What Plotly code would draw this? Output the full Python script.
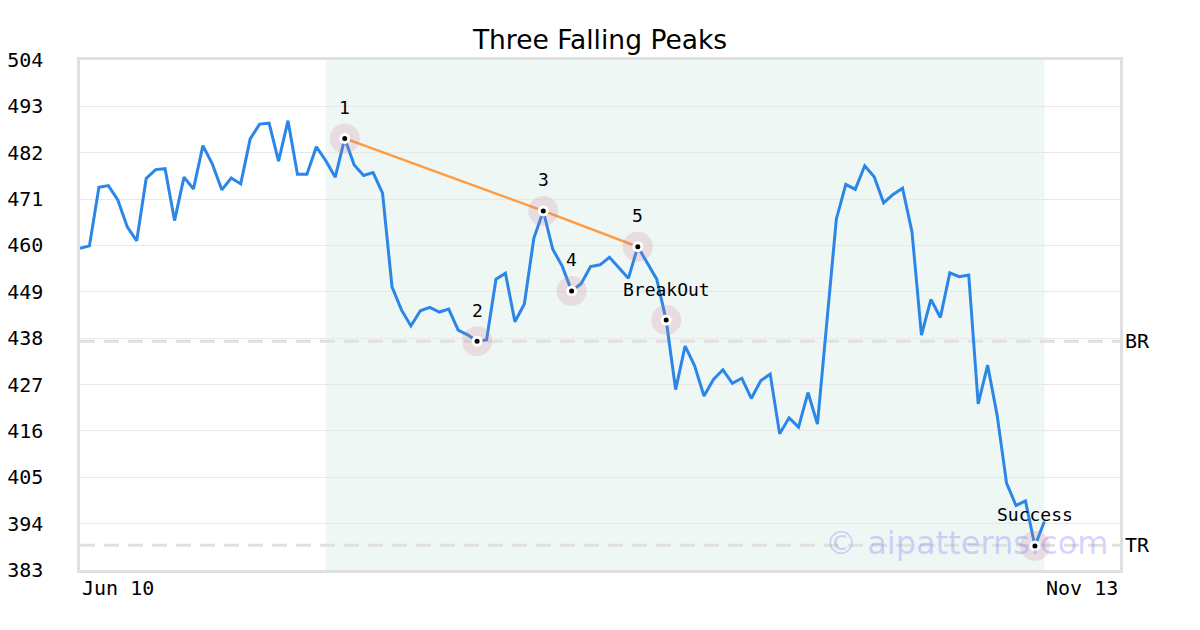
import plotly.graph_objects as go

# daily closes (one value per trading day)
prices = [
    459.3, 459.9, 473.8, 474.2, 470.8, 464.4, 461.1, 475.9, 478.0, 478.2,
    465.9, 476.2, 473.4, 483.7, 479.3, 473.2, 476.0, 474.6, 485.3, 488.8,
    489.0, 480.0, 489.6, 476.9, 476.9, 483.4, 480.1, 476.2, 485.4, 479.1,
    476.6, 477.3, 472.4, 450.2, 444.7, 440.9, 444.5, 445.3, 444.2, 444.9,
    439.9, 438.8, 437.3, 437.6, 452.0, 453.4, 441.9, 446.1, 461.7, 468.2,
    459.1, 455.1, 449.2, 450.9, 455.0, 455.4, 457.2, 454.8, 452.2, 459.7,
    455.8, 452.0, 442.3, 425.8, 436.1, 431.5, 424.3, 428.2, 430.5, 427.3,
    428.5, 423.7, 427.9, 429.5, 415.3, 419.1, 416.9, 425.1, 417.6, 442.3,
    466.3, 474.5, 473.3, 478.9, 476.3, 470.1, 472.1, 473.6, 463.2, 438.7,
    447.2, 442.9, 453.5, 452.6, 453.0, 422.4, 431.6, 419.8, 403.6, 398.3,
    399.4, 388.7, 394.5,
]

# pattern points: index into prices + label
pivot_idx = [28, 42, 49, 52, 59, 62, 101]
pivot_labels = ["1", "2", "3", "4", "5", "BreakOut", "Success"]
peak_idx = [28, 49, 59]

pattern_start = 26
pattern_end = 102
axis_end = 110

breakout_level = 437.3
target_level = 388.9

y_ticks = [383, 394, 405, 416, 427, 438, 449, 460, 471, 482, 493, 504]
date_start = "Jun 10"
date_end = "Nov 13"

MONO = "DejaVu Sans Mono"
x = list(range(len(prices)))

fig = go.Figure()

# pattern window
fig.add_shape(
    type="rect",
    xref="x",
    yref="paper",
    x0=pattern_start,
    x1=pattern_end,
    y0=0,
    y1=1,
    fillcolor="#eef7f4",
    line=dict(width=0),
    layer="below",
)

for level in [breakout_level, target_level]:
    fig.add_shape(
        type="line",
        xref="paper",
        yref="y",
        x0=0,
        x1=1,
        y0=level,
        y1=level,
        line=dict(color="#e0e0e0", width=3, dash="15px,9px"),
        layer="below",
    )

fig.add_trace(
    go.Scatter(
        x=x,
        y=prices,
        mode="lines",
        line=dict(color="#2b86e8", width=3),
        showlegend=False,
    )
)

fig.add_trace(
    go.Scatter(
        x=peak_idx,
        y=[prices[i] for i in peak_idx],
        mode="lines",
        line=dict(color="#ff9b40", width=2.5),
        showlegend=False,
    )
)

pivot_y = [prices[i] for i in pivot_idx]

# halo
fig.add_trace(
    go.Scatter(
        x=pivot_idx,
        y=pivot_y,
        mode="markers",
        marker=dict(size=30, color="rgba(205, 120, 145, 0.2)"),
        showlegend=False,
    )
)

fig.add_trace(
    go.Scatter(
        x=pivot_idx,
        y=pivot_y,
        mode="markers",
        marker=dict(size=8, color="black", line=dict(color="white", width=3)),
        showlegend=False,
    )
)

for i, label in zip(pivot_idx, pivot_labels):
    fig.add_annotation(
        x=i,
        y=prices[i],
        text=label,
        showarrow=False,
        yshift=31,
        font=dict(family=MONO, size=18, color="black"),
    )

# level tags on the right
for level, tag in [(breakout_level, "BR"), (target_level, "TR")]:
    fig.add_annotation(
        xref="paper",
        yref="y",
        x=1,
        y=level,
        text=tag,
        showarrow=False,
        xanchor="left",
        xshift=3,
        font=dict(family=MONO, size=20, color="black"),
    )

# date labels at the ends of the axis
fig.add_annotation(
    xref="x", yref="paper", x=0, y=0, text=date_start, showarrow=False,
    xanchor="left", yanchor="top", yshift=-4,
    font=dict(family=MONO, size=20, color="black"),
)
fig.add_annotation(
    xref="x", yref="paper", x=axis_end, y=0, text=date_end, showarrow=False,
    xanchor="right", yanchor="top", yshift=-4,
    font=dict(family=MONO, size=20, color="black"),
)

# watermark
fig.add_annotation(
    xref="paper", yref="paper", x=0.99, y=0.053, text="© aipatterns.com",
    showarrow=False, xanchor="right", yanchor="middle",
    font=dict(family="DejaVu Sans", size=32, color="rgba(110, 110, 245, 0.3)"),
)

fig.update_layout(
    width=1200,
    height=630,
    title=dict(
        text="Three Falling Peaks",
        x=0.5,
        xanchor="center",
        y=1 - 40 / 630,
        yanchor="middle",
        font=dict(family="DejaVu Sans", size=26.5, color="black"),
    ),
    paper_bgcolor="white",
    plot_bgcolor="white",
    margin=dict(l=80, r=80, t=60, b=60),
    showlegend=False,
)

fig.update_xaxes(
    range=[0, axis_end],
    showticklabels=False,
    showgrid=False,
    zeroline=False,
    showline=True,
    linecolor="#e0e0e0",
    linewidth=2.5,
    mirror=True,
    automargin=False,
)

fig.update_yaxes(
    range=[y_ticks[0], y_ticks[-1]],
    tickvals=y_ticks,
    ticks="",
    ticklabelstandoff=30,
    tickfont=dict(family=MONO, size=20, color="black"),
    showgrid=True,
    gridcolor="#e8e8e8",
    gridwidth=1,
    zeroline=False,
    showline=True,
    linecolor="#e0e0e0",
    linewidth=2.5,
    mirror=True,
    automargin=False,
)

# page body has a default 8px margin; drop it so the figure sits at 0,0
fig.write_html(
    "out.html",
    config={"displayModeBar": False},
    post_script="document.body.style.margin = '0';",
)
